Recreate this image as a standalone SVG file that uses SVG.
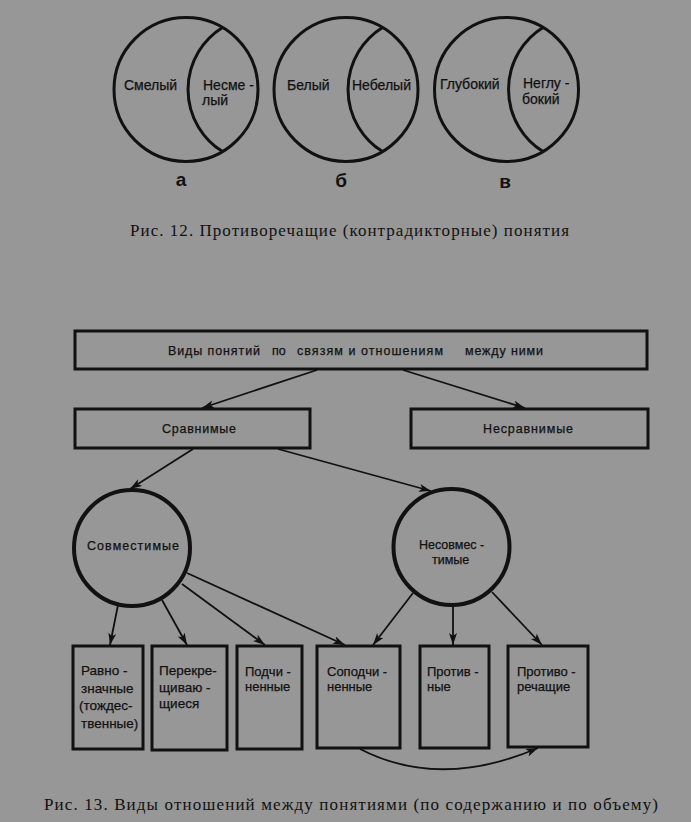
<svg xmlns="http://www.w3.org/2000/svg" width="691" height="822" viewBox="0 0 691 822">
<style>
.bg{fill:#979797}
.c{fill:none;stroke:#111;stroke-width:3}
.c4{fill:none;stroke:#111;stroke-width:4}
.b{fill:none;stroke:#111;stroke-width:3}
.t{font-family:"Liberation Sans",Arial,sans-serif;font-size:14px;fill:#111;stroke:#111;stroke-width:0.25}
.s{font-size:13.5px}
.s2{font-size:13px}
.m{font-size:12.5px}
.l{font-family:"Liberation Sans",Arial,sans-serif;font-size:19px;font-weight:bold;fill:#111;text-anchor:middle}
.cap{font-family:"Liberation Serif","Times New Roman",serif;font-size:17px;fill:#111}
.ln{fill:none;stroke:#111;stroke-width:1.8}
</style>
<defs>
<marker id="ah" markerUnits="userSpaceOnUse" markerWidth="14" markerHeight="10" refX="12" refY="4" orient="auto">
<path d="M0,0 L12,4 L0,8 L3,4 z" fill="#111"/>
</marker>
</defs>
<rect class="bg" x="0" y="0" width="691" height="822"/>

<g id="fig12">
<g id="circle-a">
<circle class="c" cx="186" cy="89.5" r="72"/>
<path class="c" d="M222.5 27.5 A73 73 0 0 0 222.5 151.5"/>
<text class="t" x="124" y="90">Смелый</text>
<text class="t" x="203" y="90">Несме -</text>
<text class="t" x="202" y="105">лый</text>
<text class="l" x="181" y="186">а</text>
</g>
<g id="circle-b">
<circle class="c" cx="346" cy="89.5" r="72"/>
<path class="c" d="M382.5 27.5 A73 73 0 0 0 382.5 151.5"/>
<text class="t" x="287" y="90">Белый</text>
<text class="t" x="352" y="90">Небелый</text>
<text class="l" x="341" y="187">б</text>
</g>
<g id="circle-v">
<circle class="c" cx="506.5" cy="89.5" r="72"/>
<path class="c" d="M543 27.5 A73 73 0 0 0 543 151.5"/>
<text class="t" x="440" y="89">Глубокий</text>
<text class="t" x="523" y="88">Неглу -</text>
<text class="t" x="522" y="104">бокий</text>
<text class="l" x="505" y="188">в</text>
</g>
<text class="cap" x="130" y="236" textLength="439" lengthAdjust="spacing">Рис. 12. Противоречащие (контрадикторные) понятия</text>
</g>

<g id="connectors">
<line class="ln" x1="317" y1="370" x2="202" y2="408" marker-end="url(#ah)"/>
<line class="ln" x1="403" y1="370" x2="525" y2="408" marker-end="url(#ah)"/>
<line class="ln" x1="193" y1="449" x2="130" y2="489" marker-end="url(#ah)"/>
<line class="ln" x1="278" y1="449" x2="431" y2="491" marker-end="url(#ah)"/>
<line class="ln" x1="118" y1="605" x2="110" y2="645" marker-end="url(#ah)"/>
<line class="ln" x1="162" y1="600" x2="187" y2="645" marker-end="url(#ah)"/>
<line class="ln" x1="182" y1="584" x2="265" y2="645" marker-end="url(#ah)"/>
<line class="ln" x1="187" y1="573" x2="345" y2="645" marker-end="url(#ah)"/>
<line class="ln" x1="413" y1="593" x2="373" y2="645" marker-end="url(#ah)"/>
<line class="ln" x1="453" y1="605" x2="453" y2="645" marker-end="url(#ah)"/>
<line class="ln" x1="492" y1="592" x2="542" y2="645" marker-end="url(#ah)"/>
<path class="ln" d="M360 749 Q440 790 538 748" marker-end="url(#ah)"/>
</g>

<g id="root">
<rect class="b" x="75" y="331" width="572" height="38"/>
<text class="t m" x="168" y="355" textLength="92">Виды понятий</text>
<text class="t m" x="272" y="355">по</text>
<text class="t m" x="297" y="355" textLength="146">связям и отношениям</text>
<text class="t m" x="465" y="355" textLength="78">между ними</text>
</g>
<g id="sravnimye">
<rect class="b" x="75" y="409" width="235" height="39"/>
<text class="t m" x="162" y="433" textLength="74">Сравнимые</text>
</g>
<g id="nesravnimye">
<rect class="b" x="411" y="409" width="237" height="39"/>
<text class="t m" x="483" y="433" textLength="90">Несравнимые</text>
</g>
<g id="sovmestimye">
<circle class="c4" cx="132" cy="548" r="58"/>
<text class="t m" x="87" y="550" textLength="92">Совместимые</text>
</g>
<g id="nesovmestimye">
<circle class="c4" cx="451.5" cy="547" r="58"/>
<text class="t m" x="419" y="549">Несовмес -</text>
<text class="t m" x="432" y="564">тимые</text>
</g>

<g id="ravnoznachnye">
<rect class="b" x="73" y="646" width="70" height="103"/>
<text class="t s" x="81" y="675">Равно -</text>
<text class="t s" x="81" y="693">значные</text>
<text class="t s" x="79" y="710">(тождес-</text>
<text class="t s" x="81" y="728">твенные)</text>
</g>
<g id="perekreshch">
<rect class="b" x="152" y="646" width="75" height="104"/>
<text class="t s" x="159" y="675">Перекре-</text>
<text class="t s" x="159" y="692">щиваю -</text>
<text class="t s" x="159" y="708">щиеся</text>
</g>
<g id="podchinennye">
<rect class="b" x="237" y="646" width="65" height="103"/>
<text class="t s2" x="245" y="676">Подчи -</text>
<text class="t s2" x="245" y="691">ненные</text>
</g>
<g id="sopodchinennye">
<rect class="b" x="317" y="646" width="83" height="102"/>
<text class="t s2" x="327" y="676">Соподчи -</text>
<text class="t s2" x="327" y="691">ненные</text>
</g>
<g id="protivnye">
<rect class="b" x="420" y="646" width="69" height="102"/>
<text class="t s2" x="427" y="676">Против -</text>
<text class="t s2" x="427" y="691">ные</text>
</g>
<g id="protivorechashchie">
<rect class="b" x="508" y="646" width="80" height="101"/>
<text class="t s2" x="517" y="676">Противо -</text>
<text class="t s2" x="517" y="691">речащие</text>
</g>

<text class="cap" x="44" y="810" textLength="614" lengthAdjust="spacing">Рис. 13. Виды отношений между понятиями (по содержанию и по объему)</text>
</svg>
